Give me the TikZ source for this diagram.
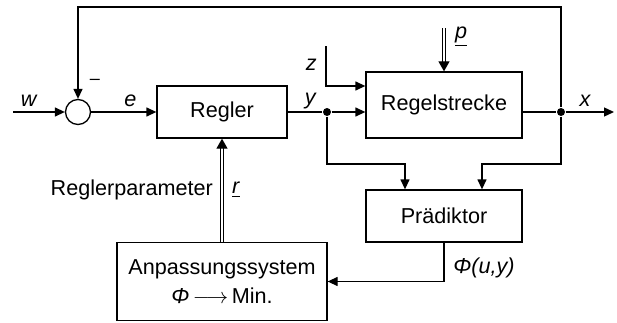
\documentclass[tikz,border=0pt]{standalone}
\usepackage{fontspec}
\setmainfont{Liberation Sans}
\usepackage{tikz}
\usetikzlibrary{arrows.meta, positioning}

\begin{document}
\begin{tikzpicture}[
  x=0.5pt, y=-0.5pt,
  font=\fontsize{10.8}{13}\selectfont, line width=0.65pt,
  >={Triangle[length=5pt, width=4.5pt]},
  blk/.style={draw, line width=0.65pt, inner sep=0pt, align=center},
  sig/.style={font=\fontsize{10.8}{13}\selectfont\itshape},
  dot/.style={circle, fill, inner sep=0pt, minimum size=4pt},
  dbl/.style={double, double distance=1.3pt, line width=0.55pt, -{Triangle[length=5pt, width=5.5pt]}}]
  \useasboundingbox (0,0) rectangle (617,322);
  % Bloecke
  \node[blk, circle, minimum size=12.5pt] (sum) at (78,112) {};
  \node[blk, minimum width=65pt, minimum height=26pt] (regler) at (222,112) {Regler};
  \node[blk, minimum width=78pt, minimum height=33pt] (strecke) at (444,105) {Regelstrecke};
  \node[blk, minimum width=78pt, minimum height=26pt] (praed) at (444,216) {Prädiktor};
  \node[blk, minimum width=105pt, minimum height=39.3pt] (anp) at (222,281.5)
    {Anpassungssystem\\[1.5pt]\textit{Φ}\,$\longrightarrow$\,Min.};
  % Verzweigungen und freie Enden
  \node[dot] (ydot) at (327,112) {};
  \node[dot] (xdot) at (561,112) {};
  \coordinate (wIn) at (13,112);
  \coordinate (zIn) at (326,46);
  \coordinate (pIn) at (444,28);
  \coordinate (xOut) at (614,112);
  % Hauptkreis
  \draw[->] (wIn) -- node[sig, above=-1pt, pos=0.3]{w} (sum);
  \draw[->] (sum) -- node[sig, above=-1pt, pos=0.6]{e} (regler);
  \draw (regler.east) -- node[sig, above=-2pt, pos=0.65]{y} (ydot);
  \draw[->] (ydot) -- (ydot -| strecke.west);
  \draw[->] (zIn) node[sig, below left=3pt and 1pt]{z} |- ([yshift=9.5pt]strecke.west);
  \draw[dbl] (pIn) -- node[right=2pt, pos=0.2]{\underline{\textit{p}}} (strecke.north);
  \draw (xdot -| strecke.east) -- (xdot);
  \draw[->] (xdot) -- node[sig, above=-1pt, pos=0.4]{x} (xOut);
  % Rueckfuehrung
  \draw[->] (xdot) -- ++(0,-105) -| (sum.north);
  \node[font=\fontsize{9}{10}\selectfont] (minus) at (95,82) {--};
  % Praediktor
  \draw[->] (ydot) -- ++(0,52) -| ([xshift=-19.5pt]praed.north);
  \draw[->] (xdot) -- ++(0,52) -| ([xshift=19pt]praed.north);
  \draw[->] (praed.south) |- node[sig, right=1pt, pos=0.33]{Φ(u,y)} (anp.east);
  % Anpassung
  \draw[dbl] (anp.north) -- node[left=1pt]{Reglerparameter}
    node[right=1.5pt]{\underline{\textit{r}}} (regler.south);
\end{tikzpicture}
\end{document}
